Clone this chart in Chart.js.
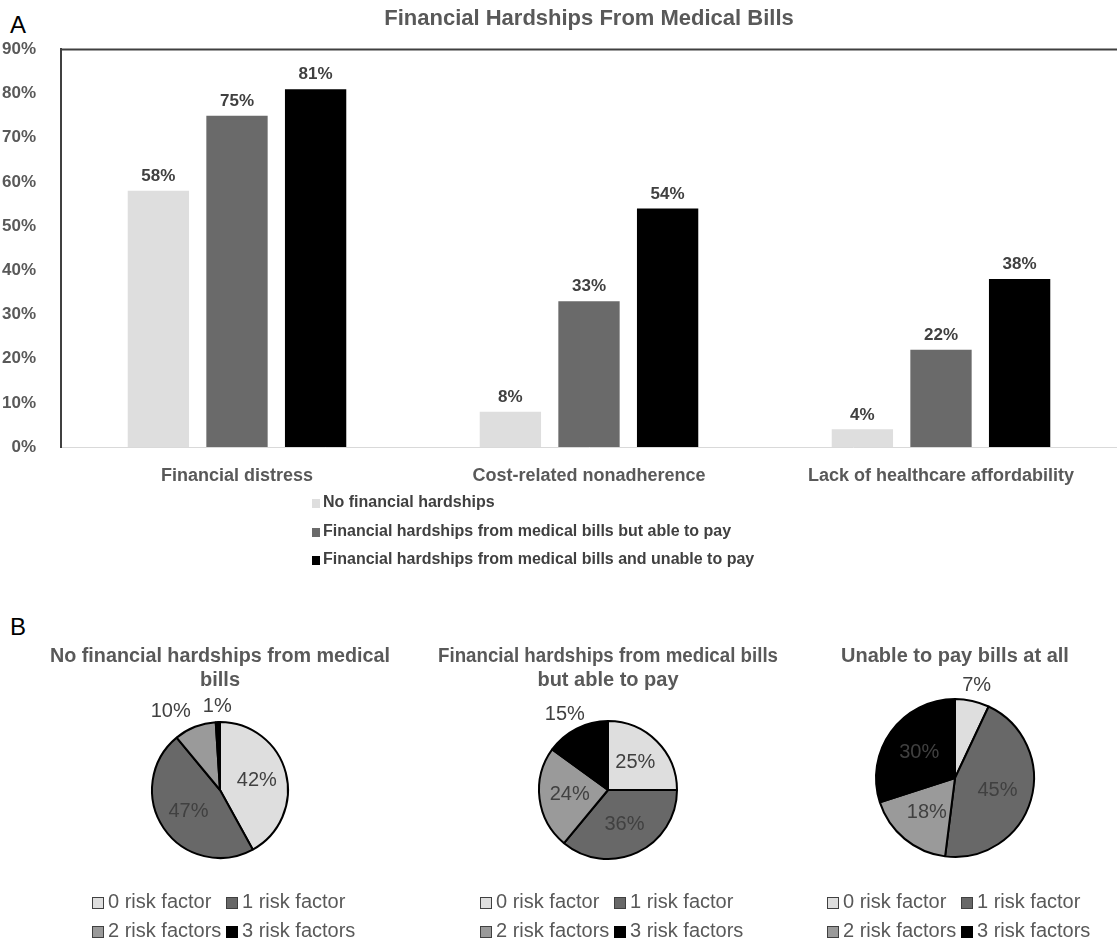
<!DOCTYPE html>
<html>
<head>
<meta charset="utf-8">
<title>Financial Hardships From Medical Bills</title>
<script src="https://cdn.jsdelivr.net/npm/chart.js@4/dist/chart.umd.min.js"></script>
<style>
  body { margin: 0; background: #fff; font-family: "Liberation Sans", Arial, sans-serif; }
  #wrap { position: relative; width: 1117px; height: 941px; overflow: hidden; }
  .panel { position: absolute; left: 10px; font-size: 24px; line-height: 24px; color: #000; }
  canvas { position: absolute; }
  #barLegend { position: absolute; left: 312px; top: 488px; }
  #barLegend div { height: 28.5px; line-height: 28.5px; font-size: 16px; font-weight: bold; color: #404040; white-space: nowrap; }
  #barLegend span { display: inline-block; width: 8px; height: 9px; margin-right: 3px; vertical-align: -1px; }
  .pieLegend { position: absolute; top: 887px; display: grid; grid-template-columns: 134px auto; }
  .pieLegend div { height: 29px; line-height: 29px; font-size: 20px; color: #595959; white-space: nowrap; }
  .pieLegend span { display: inline-block; width: 12px; height: 12px; box-sizing: border-box; border: 1.5px solid #404040; margin-right: 4px; vertical-align: -1px; }
</style>
</head>
<body>
<div id="wrap">
  <div class="panel" style="top:13px">A</div>
  <canvas id="bars" width="1117" height="490" style="left:0;top:0"></canvas>
  <div id="barLegend"></div>
  <div class="panel" style="top:615px">B</div>
</div>
<script>
// Panel A: share of respondents with each outcome, by hardship group
const barCategories = ['Financial distress', 'Cost-related nonadherence', 'Lack of healthcare affordability'];
const seriesLabels = [
  'No financial hardships',
  'Financial hardships from medical bills but able to pay',
  'Financial hardships from medical bills and unable to pay'
];
const noHardship = [58, 8, 4];
const ableToPay = [75, 33, 22];
const unableToPay = [81, 54, 38];
const yMax = 90;
const yStep = 10;

// Panel B: number of risk factors within each hardship group
const pieTitles = [
  ['No financial hardships from medical', 'bills'],
  ['Financial hardships from medical bills', 'but able to pay'],
  'Unable to pay bills at all'
];
const riskLabels = ['0 risk factor', '1 risk factor', '2 risk factors', '3 risk factors'];
const pieNoHardship = [42, 47, 10, 1];
const pieAbleToPay = [25, 36, 24, 15];
const pieUnableToPay = [7, 45, 18, 30];

const FONT = '"Liberation Sans", Arial, sans-serif';
Chart.defaults.font.family = FONT;

const barColors = ['#dedede', '#6a6a6a', '#000000'];
const riskColors = ['#dedede', '#686868', '#9a9a9a', '#000000'];

// percentage labels above each bar
const barValueLabels = {
  id: 'barValueLabels',
  afterDatasetsDraw(chart) {
    const ctx = chart.ctx;
    ctx.save();
    ctx.font = 'bold 17px ' + FONT;
    ctx.fillStyle = '#404040';
    ctx.textAlign = 'center';
    ctx.textBaseline = 'bottom';
    chart.data.datasets.forEach((ds, i) => {
      chart.getDatasetMeta(i).data.forEach((bar, j) => {
        ctx.fillText(ds.data[j] + '%', bar.x, bar.y - 6);
      });
    });
    ctx.restore();
  }
};

// dark line along the top of the plot area
const topFrame = {
  id: 'topFrame',
  afterDraw(chart) {
    const {ctx, chartArea} = chart;
    ctx.save();
    ctx.strokeStyle = '#404040';
    ctx.lineWidth = 2;
    ctx.beginPath();
    ctx.moveTo(chartArea.left - 1, chartArea.top);
    ctx.lineTo(chartArea.right, chartArea.top);
    ctx.stroke();
    ctx.restore();
  }
};

const barSeries = [noHardship, ableToPay, unableToPay];

new Chart(document.getElementById('bars'), {
  type: 'bar',
  data: {
    labels: barCategories,
    datasets: barSeries.map((values, i) => ({
      label: seriesLabels[i],
      data: values,
      backgroundColor: barColors[i],
      categoryPercentage: 0.67,
      barPercentage: 0.78
    }))
  },
  options: {
    responsive: false,
    devicePixelRatio: 1,
    animation: false,
    layout: { padding: 0 },
    plugins: {
      legend: { display: false },
      tooltip: { enabled: false },
      title: {
        display: true,
        fullSize: false,
        text: 'Financial Hardships From Medical Bills',
        color: '#595959',
        font: { size: 22, weight: 'bold' },
        padding: { top: 6, bottom: 17 }
      }
    },
    scales: {
      x: {
        grid: { display: false },
        border: { color: '#d9d9d9', width: 1 },
        ticks: { color: '#595959', font: { size: 18, weight: 'bold' }, padding: 10, maxRotation: 0 },
        afterFit(scale) { scale.height = 43; }
      },
      y: {
        min: 0,
        max: yMax,
        grid: { display: false },
        border: { color: '#404040', width: 2 },
        ticks: {
          stepSize: yStep,
          color: '#595959',
          font: { size: 17, weight: 'bold' },
          padding: 17,
          callback: v => v + '%'
        },
        afterFit(scale) { scale.width = 61; }
      }
    }
  },
  plugins: [barValueLabels, topFrame]
});

// legend for panel A, one series per row
const barLegend = document.getElementById('barLegend');
seriesLabels.forEach((label, i) => {
  const row = document.createElement('div');
  row.innerHTML = '<span style="background:' + barColors[i] + '"></span>' + label;
  barLegend.appendChild(row);
});

// percentage labels on the pies: inside for large slices, outside for small ones
const pieLabels = {
  id: 'pieLabels',
  afterDatasetsDraw(chart) {
    const ctx = chart.ctx;
    const values = chart.data.datasets[0].data;
    ctx.save();
    ctx.font = '20px ' + FONT;
    ctx.fillStyle = '#404040';
    ctx.textAlign = 'center';
    ctx.textBaseline = 'middle';
    const placed = chart.getDatasetMeta(0).data.map((arc, i) => {
      const {x, y, startAngle, endAngle, outerRadius} =
        arc.getProps(['x', 'y', 'startAngle', 'endAngle', 'outerRadius'], true);
      const mid = (startAngle + endAngle) / 2;
      const dx = Math.cos(mid), dy = Math.sin(mid);
      const text = values[i] + '%';
      const w = ctx.measureText(text).width;
      const outside = values[i] < 16;
      if (!outside) {
        return { text, w, outside, px: x + dx * outerRadius * 0.56, py: y + dy * outerRadius * 0.56 };
      }
      const r = outerRadius + 6;
      return { text, w, outside, px: x + dx * r + dx * w / 2, py: y + dy * r + dy * 10 };
    });
    // push neighbouring outside labels apart
    const outs = placed.filter(p => p.outside);
    for (let a = 0; a < outs.length; a++) {
      for (let b = a + 1; b < outs.length; b++) {
        const p = outs[a], q = outs[b];
        const overlap = (p.w + q.w) / 2 + 12 - Math.abs(p.px - q.px);
        if (overlap > 0 && Math.abs(p.py - q.py) < 20) {
          p.px += p.px < q.px ? -overlap : overlap;
        }
      }
    }
    placed.forEach(p => ctx.fillText(p.text, p.px, p.py));
    ctx.restore();
  }
};

const pieData = [pieNoHardship, pieAbleToPay, pieUnableToPay];
const pieCenterX = [220, 608, 955];
const pieRadius = [68, 69, 79];
const wrap = document.getElementById('wrap');

pieData.forEach((values, i) => {
  const canvas = document.createElement('canvas');
  canvas.width = 340;
  canvas.height = 248;
  canvas.style.left = (pieCenterX[i] - 170) + 'px';
  canvas.style.top = '640px';
  wrap.appendChild(canvas);

  new Chart(canvas, {
    type: 'pie',
    data: {
      labels: riskLabels,
      datasets: [{
        data: values,
        backgroundColor: riskColors,
        borderColor: '#000000',
        borderWidth: 2,
        hoverOffset: 0
      }]
    },
    options: {
      responsive: false,
      devicePixelRatio: 1,
      animation: false,
      radius: pieRadius[i],
      layout: { padding: 0 },
      plugins: {
        legend: { display: false },
        tooltip: { enabled: false },
        title: {
          display: true,
          text: pieTitles[i],
          color: '#595959',
          font: { size: 20, weight: 'bold' },
          padding: { top: 4, bottom: 0 }
        }
      }
    },
    plugins: [pieLabels]
  });

  // 2 x 2 legend under each pie
  const legend = document.createElement('div');
  legend.className = 'pieLegend';
  legend.style.left = (pieCenterX[i] - 128) + 'px';
  riskLabels.forEach((label, k) => {
    const item = document.createElement('div');
    const edge = riskColors[k] === '#000000' ? '#000' : '#404040';
    item.innerHTML = '<span style="background:' + riskColors[k] + ';border-color:' + edge + '"></span>' + label;
    legend.appendChild(item);
  });
  wrap.appendChild(legend);
});
</script>
</body>
</html>
